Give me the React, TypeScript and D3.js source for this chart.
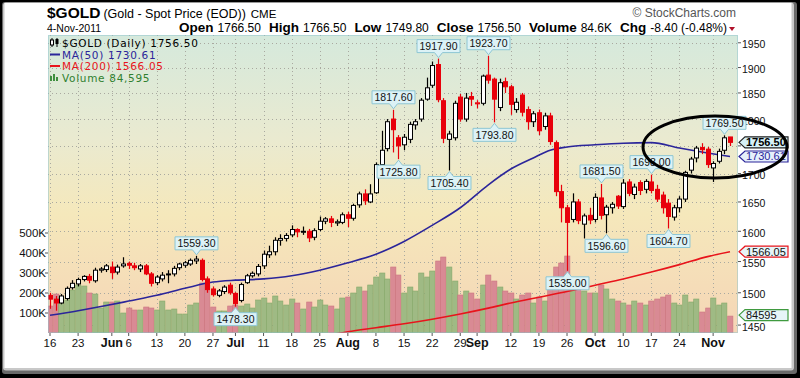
import React from "react";
import * as d3 from "d3";

const dates = [
  "2011-05-16","2011-05-17","2011-05-18","2011-05-19","2011-05-20",
  "2011-05-23","2011-05-24","2011-05-25","2011-05-26","2011-05-27",
  "2011-05-31","2011-06-01","2011-06-02","2011-06-03",
  "2011-06-06","2011-06-07","2011-06-08","2011-06-09","2011-06-10",
  "2011-06-13","2011-06-14","2011-06-15","2011-06-16","2011-06-17",
  "2011-06-20","2011-06-21","2011-06-22","2011-06-23","2011-06-24",
  "2011-06-27","2011-06-28","2011-06-29","2011-06-30","2011-07-01",
  "2011-07-05","2011-07-06","2011-07-07","2011-07-08",
  "2011-07-11","2011-07-12","2011-07-13","2011-07-14","2011-07-15",
  "2011-07-18","2011-07-19","2011-07-20","2011-07-21","2011-07-22",
  "2011-07-25","2011-07-26","2011-07-27","2011-07-28","2011-07-29",
  "2011-08-01","2011-08-02","2011-08-03","2011-08-04","2011-08-05",
  "2011-08-08","2011-08-09","2011-08-10","2011-08-11","2011-08-12",
  "2011-08-15","2011-08-16","2011-08-17","2011-08-18","2011-08-19",
  "2011-08-22","2011-08-23","2011-08-24","2011-08-25","2011-08-26",
  "2011-08-29","2011-08-30","2011-08-31","2011-09-01","2011-09-02",
  "2011-09-06","2011-09-07","2011-09-08","2011-09-09",
  "2011-09-12","2011-09-13","2011-09-14","2011-09-15","2011-09-16",
  "2011-09-19","2011-09-20","2011-09-21","2011-09-22","2011-09-23",
  "2011-09-26","2011-09-27","2011-09-28","2011-09-29","2011-09-30",
  "2011-10-03","2011-10-04","2011-10-05","2011-10-06","2011-10-07",
  "2011-10-10","2011-10-11","2011-10-12","2011-10-13","2011-10-14",
  "2011-10-17","2011-10-18","2011-10-19","2011-10-20","2011-10-21",
  "2011-10-24","2011-10-25","2011-10-26","2011-10-27","2011-10-28",
  "2011-10-31","2011-11-01","2011-11-02","2011-11-03","2011-11-04",
];

const opens = [
  1496,1490,1484,1491,1508, 1514,1521,1526,1519,1536, 1537,1541,1533,1543,
  1547,1543,1538,1543,1530, 1516,1522,1529,1530,1540, 1544,1546,1551,1552,1522,
  1506,1496,1502,1512,1499, 1488,1516,1527,1530, 1543,1561,1566,1585,1588,
  1594,1603,1599,1600,1590, 1603,1617,1621,1614,1615, 1628,1622,1645,1664,1650,
  1666,1716,1745,1800,1765, 1752,1762,1789,1800,1838, 1865,1906,1835,1762,1765,
  1842,1800,1843,1829,1830, 1885,1877,1822,1872, 1862,1818,1846,1818,1795,
  1812,1786,1806,1756,1668, 1640,1620,1650,1612,1627, 1620,1657,1628,1640,1660,
  1642,1685,1663,1684,1672, 1685,1672,1662,1648,1624, 1640,1655,1706,1728,1747,
  1744,1710,1722,1742,1766.5,
];
const highs = [
  1500,1495,1498,1510,1520, 1524,1528,1530,1540,1541, 1546,1550,1545,1557,
  1550,1548,1546,1546,1533, 1528,1533,1536,1543,1548, 1551,1555,1559.3,1555,1526,
  1510,1506,1512,1516,1501, 1516,1530,1534,1546, 1568,1576,1590,1595,1597,
  1610,1605,1608,1604,1605, 1625,1624,1626,1620,1632, 1633,1647,1668,1672,1681,
  1720,1778,1800,1817.6,1770, 1772,1795,1800,1840,1880, 1912,1917.9,1840,1778,1835,
  1848,1850,1852,1836,1886, 1923.7,1880,1878,1880, 1866,1840,1850,1824,1815,
  1818,1812,1812,1760,1680, 1645,1665,1655,1630,1640, 1665,1681.5,1645,1650,1662,
  1690,1690,1682,1688,1690, 1698,1680,1668,1655,1645, 1660,1705,1730,1750,1755,
  1748,1722,1745,1769.5,1766.5,
];
const lows = [
  1475,1472,1482,1488,1505, 1510,1518,1515,1516,1532, 1533,1522,1529,1540,
  1538,1536,1533,1528,1510, 1512,1518,1515,1526,1536, 1540,1543,1546,1518,1500,
  1494,1493,1498,1497,1478.3, 1485,1514,1524,1526, 1538,1556,1560,1576,1583,
  1590,1590,1594,1582,1585, 1600,1612,1607,1609,1612, 1607,1618,1640,1645,1648,
  1664,1716,1740,1738,1725.8, 1742,1755,1780,1795,1835, 1860,1832,1755,1705.4,1760,
  1795,1795,1825,1820,1826, 1868,1793.8,1815,1850, 1808,1812,1805,1780,1785,
  1770,1780,1752,1660,1615, 1535,1615,1612,1588,1612, 1615,1620,1596.6,1630,1638,
  1638,1660,1655,1662,1665, 1665,1650,1630,1604.7,1618, 1632,1650,1700,1720,1735,
  1710,1685,1718,1735,1749.8,
];
const closes = [
  1490,1484,1495,1507,1515, 1521,1526,1520,1536,1538, 1543,1532,1541,1546,
  1544,1540,1543,1530,1515, 1525,1528,1530,1539,1546, 1548,1552,1554,1521,1505,
  1497,1503,1509,1500,1483, 1513,1527,1531,1542, 1562,1566,1585,1588,1593,
  1603,1599,1600,1589,1601, 1617,1621,1615,1616,1628, 1622,1644,1664,1652,1664,
  1716,1742,1795,1780,1750, 1766,1790,1795,1836,1860, 1904,1837,1764,1772,1830,
  1800,1840,1838,1831,1883, 1875,1838,1870,1862, 1828,1832,1813,1795,1810,
  1778,1806,1758,1668,1640, 1615,1650,1618,1626,1619, 1658,1627,1641,1646,1643,
  1683,1665,1676,1670,1686, 1670,1655,1640,1625,1640, 1655,1702,1726,1746,1743,
  1716,1718,1740,1764.9,1756.5,
];
const volumes = [
  135000,195000,180000,165000,215000, 240000,235000,200000,195000,125000,
  155000,155000,160000,100000, 125000,115000,115000,130000,125000,
  115000,160000,115000,120000,95000, 95000,140000,150000,250000,240000,
  130000,110000,110000,135000,140000, 135000,145000,125000,165000,
  175000,150000,185000,160000,140000, 170000,150000,120000,155000,130000,
  165000,140000,135000,120000,175000, 180000,200000,230000,210000,240000,
  280000,300000,270000,330000,290000, 200000,230000,210000,300000,280000,
  310000,360000,380000,330000,260000, 190000,210000,200000,170000,240000,
  290000,260000,230000,210000, 200000,170000,190000,200000,150000,
  180000,160000,220000,330000,350000, 385000,250000,220000,210000,200000,
  200000,240000,220000,170000,160000, 150000,140000,160000,150000,140000,
  160000,170000,180000,190000,150000, 140000,190000,155000,170000,105000,
  125000,175000,140000,150000,84595,
];
const priorClose = 1493;

const ma50Dates = [
  "2011-05-16","2011-05-23","2011-05-31","2011-06-06","2011-06-13","2011-06-20",
  "2011-06-27","2011-07-01","2011-07-11","2011-07-18","2011-07-25","2011-08-01",
  "2011-08-08","2011-08-15","2011-08-22","2011-08-29","2011-09-06","2011-09-12",
  "2011-09-16","2011-09-21","2011-09-26","2011-10-03","2011-10-10","2011-10-17",
  "2011-10-24","2011-10-31","2011-11-04",
];
const ma50Values = [
  1465,1472,1480,1487,1496,1507, 1517,1520,1522,1527,1536,1548,
  1562,1583,1610,1640,1680,1708, 1728,1742,1748,1752,1755,1756,
  1746,1737,1730.61,
];
const ma200Dates = [
  "2011-07-25","2011-08-01","2011-08-08","2011-08-15","2011-08-22","2011-08-29",
  "2011-09-06","2011-09-12","2011-09-19","2011-09-26","2011-10-03","2011-10-10",
  "2011-10-17","2011-10-24","2011-10-31","2011-11-04",
];
const ma200Values = [
  1432,1440,1446,1452,1459,1467, 1476,1484,1493,1502,1512,1522,
  1533,1545,1558,1566.05,
];

const tickDates = [
  "2011-05-16","2011-05-23","2011-06-01","2011-06-06","2011-06-13","2011-06-20",
  "2011-06-27","2011-07-01","2011-07-11","2011-07-18","2011-07-25","2011-08-01",
  "2011-08-08","2011-08-15","2011-08-22","2011-08-29","2011-09-01","2011-09-12",
  "2011-09-19","2011-09-26","2011-10-03","2011-10-10","2011-10-17","2011-10-24",
  "2011-11-01",
];
const tickLabels = [
  "16","23","Jun","6","13","20","27","Jul","11","18","25","Aug",
  "8","15","22","29","Sep","12","19","26","Oct","10","17","24","Nov",
];
const priceTicks = [1450,1500,1550,1600,1650,1700,1750,1800,1850,1900,1950];
const volumeTicks = [100000,200000,300000,400000,500000];
const volumeTickLabels = ["100K","200K","300K","400K","500K"];

const calloutDates = [
  "2011-06-22","2011-07-01","2011-08-11","2011-08-12","2011-08-23","2011-08-25",
  "2011-09-06","2011-09-07","2011-10-04","2011-10-05","2011-10-17","2011-10-20",
  "2011-09-26","2011-11-03",
];
const calloutValues = [
  1559.3,1478.3,1817.6,1725.8,1917.9,1705.4,1923.7,1793.8,1681.5,1596.6,1698.0,1604.7,1535.0,1769.5,
];
const calloutSides = ["H","L","H","L","H","L","H","L","H","L","H","L","L","H"];

const F = "'Liberation Sans', Arial, sans-serif";
const FV = "'DejaVu Sans', Verdana, sans-serif";

function textW(s: string, size: number) {
  let w = 0;
  for (const c of s) w += c === "." ? 0.278 : 0.556;
  return w * size;
}

export default function App() {
  const W = 800, H = 378;
  const L = 48, R = 738, T = 35, B = 333;
  const x = d3.scalePoint<string>().domain(dates).range([50, 730]);
  const y = d3.scaleLog().domain([1438, 1966]).range([B, T]);
  const yv = d3.scaleLinear().domain([0, 1490000]).range([B, T]);
  const n = dates.length;

  const line = d3.line<[string, number]>()
    .x((d) => x(d[0]) as number)
    .y((d) => y(d[1]))
    .curve(d3.curveMonotoneX);
  const ma50Path = line(ma50Dates.map((d, i) => [d, ma50Values[i]]));
  const ma200Path = line(ma200Dates.map((d, i) => [d, ma200Values[i]]));

  const candles = dates.map((d, i) => {
    const prev = i === 0 ? priorClose : closes[i - 1];
    const up = closes[i] >= prev;
    const hollow = closes[i] > opens[i];
    const cx = Math.round(x(d) as number) + 0.5;
    const col = up ? "#000" : "#e8000b";
    const top = y(Math.max(opens[i], closes[i]));
    const bot = y(Math.min(opens[i], closes[i]));
    return { d, i, up, hollow, cx, col, top, bot };
  });

  const lastClose = closes[n - 1];
  const lastMa50 = ma50Values[ma50Values.length - 1];
  const lastMa200 = ma200Values[ma200Values.length - 1];
  const lastVol = volumes[n - 1];
  const tagYs = [y(lastClose), y(lastMa50), y(lastMa200), yv(lastVol)];
  const hiddenByTag = (p: number) => tagYs.some((ty) => Math.abs(ty - y(p)) < 7);

  const tag = (yy: number, txt: string, stroke: string, fill: string, color: string, bold: boolean) => {
    const x0 = R + 1, x1 = R + 7, x2 = 788;
    const h = 5.5;
    return (
      <g key={txt}>
        <path d={`M${x0},${yy} L${x1},${yy - h} L${x2},${yy - h} L${x2},${yy + h} L${x1},${yy + h} Z`}
          fill={fill} stroke={stroke} strokeWidth={1.2} />
        <text x={x1 + 1} y={yy + 3.8} fontFamily={F} fontSize={11} fontWeight={bold ? "bold" : "normal"} fill={color}>{txt}</text>
      </g>
    );
  };

  return (
    <div>
      <style>{`body{margin:0}`}</style>
      <svg width={W} height={H} style={{ display: "block" }}>
        <defs>
          <linearGradient id="bg" x1="0" y1="0" x2="0" y2="1">
            <stop offset="0" stopColor="#d5e9dc" />
            <stop offset="0.35" stopColor="#eaead0" />
            <stop offset="0.6" stopColor="#f5e8bb" />
            <stop offset="1" stopColor="#f5d5b6" />
          </linearGradient>
          <clipPath id="plot">
            <rect x={L} y={T} width={R - L} height={B - T} />
          </clipPath>
        </defs>
        {/* frame */}
        <rect x={0} y={0} width={W} height={H} fill="#000" />
        <rect x={2} y={2} width={795} height={372} rx={3} fill="#6a6a6a" />
        <rect x={3} y={2.5} width={791} height={368} rx={3} fill="#c8c8c8" />
        <rect x={4.5} y={3} width={787} height={365} fill="#fff" />

        {/* header */}
        <text x={47} y={18} fontFamily={F}>
          <tspan fontSize={15.5} fontWeight="bold">$GOLD</tspan>
          <tspan fontSize={12.5} dx={3}>(Gold - Spot Price (EOD))</tspan>
          <tspan fontSize={11.5} dx={5}>CME</tspan>
        </text>
        <text x={47} y={32} fontFamily={F} fontSize={10.5}>4-Nov-2011</text>
        <text x={736} y={17} textAnchor="end" fontFamily={F} fontSize={12} fill="#555">© StockCharts.com</text>
        <text x={727} y={32} textAnchor="end" fontFamily={F} fontSize={12}>
          <tspan fontWeight="bold" fontSize={13.5}>Open</tspan>
          <tspan dx={4}>1766.50</tspan>
          <tspan fontWeight="bold" fontSize={13.5} dx={8}>High</tspan>
          <tspan dx={4}>1766.50</tspan>
          <tspan fontWeight="bold" fontSize={13.5} dx={8}>Low</tspan>
          <tspan dx={4}>1749.80</tspan>
          <tspan fontWeight="bold" fontSize={13.5} dx={8}>Close</tspan>
          <tspan dx={4}>1756.50</tspan>
          <tspan fontWeight="bold" fontSize={13.5} dx={8}>Volume</tspan>
          <tspan dx={4}>84.6K</tspan>
          <tspan fontWeight="bold" fontSize={13.5} dx={8}>Chg</tspan>
          <tspan dx={4}>-8.40 (-0.48%)</tspan>
        </text>
        <path d="M729,27 L735,27 L732,31 Z" fill="#b0102a" />

        {/* plot background */}
        <rect x={L} y={T} width={R - L} height={B - T} fill="url(#bg)" />

        {/* grid */}
        {priceTicks.map((p) => (
          <line key={"g" + p} x1={L} x2={R} y1={Math.round(y(p)) + 0.5} y2={Math.round(y(p)) + 0.5}
            stroke="#a9a9a0" strokeDasharray="1,3" />
        ))}
        {tickDates.map((d) => (
          <line key={"gv" + d} x1={Math.round(x(d) as number) + 0.5} x2={Math.round(x(d) as number) + 0.5}
            y1={T} y2={B} stroke="#a9a9a0" strokeDasharray="1,3" />
        ))}

        <g clipPath="url(#plot)">
          {/* volume */}
          {candles.map((c) => (
            <rect key={"v" + c.d} x={c.cx - 2.8} y={yv(volumes[c.i])} width={5.2} height={B - yv(volumes[c.i])}
              fill={c.up ? "#9fba84" : "#d98a94"} stroke={c.up ? "#86a96a" : "#cc7680"} strokeWidth={0.6} />
          ))}
          {/* moving averages */}
          <path d={ma200Path ?? ""} fill="none" stroke="#e8141b" strokeWidth={1.6} />
          <path d={ma50Path ?? ""} fill="none" stroke="#2b259a" strokeWidth={1.6} />
          {/* candles */}
          {candles.map((c) => (
            <g key={"c" + c.d}>
              <line x1={c.cx} x2={c.cx} y1={y(highs[c.i])} y2={y(lows[c.i])} stroke={c.col} strokeWidth={1.2} />
              <rect x={c.cx - 2} y={c.top} width={4} height={Math.max(1, c.bot - c.top)}
                fill={c.hollow ? "#fff" : c.col} stroke={c.col} strokeWidth={1} />
            </g>
          ))}
        </g>

        {/* plot border */}
        <rect x={L + 0.5} y={T + 0.5} width={R - L - 1} height={B - T - 1} fill="none" stroke="#8fc3cf" strokeDasharray="1,1" />

        {/* right price axis */}
        {priceTicks.map((p) => (
          <g key={"pt" + p}>
            <line x1={R} x2={R + 3} y1={y(p)} y2={y(p)} stroke="#555" />
            {!hiddenByTag(p) && (
              <text x={R + 4} y={y(p) + 5.5} fontFamily={F} fontSize={10.5} fill="#111">{p}</text>
            )}
          </g>
        ))}
        {/* left volume axis */}
        {volumeTicks.map((v, i) => (
          <g key={"vt" + v}>
            <line x1={L - 3} x2={L} y1={yv(v)} y2={yv(v)} stroke="#555" />
            <text x={L - 2} y={yv(v) + 4} textAnchor="end" fontFamily={F} fontSize={11.5} fill="#111">{volumeTickLabels[i]}</text>
          </g>
        ))}
        {/* x axis */}
        {tickDates.map((d, i) => {
          const isMonth = isNaN(Number(tickLabels[i]));
          return (
            <g key={"xt" + d}>
              <line x1={x(d) as number} x2={x(d) as number} y1={B} y2={B + 3} stroke="#555" />
              <text x={x(d) as number} y={347} textAnchor="middle" fontFamily={F}
                fontSize={isMonth ? 12.5 : 11.5} fontWeight={isMonth ? "bold" : "normal"} fill="#111">{tickLabels[i]}</text>
            </g>
          );
        })}

        {/* callouts */}
        {calloutDates.map((d, i) => {
          const cx = Math.round(x(d) as number) + 0.5;
          const txt = calloutValues[i].toFixed(2);
          const w = textW(txt, 10.5) + 5;
          const hi = calloutSides[i] === "H";
          const py = y(calloutValues[i]);
          const tip = hi ? py - 1 : py + 1;
          const bEdge = hi ? tip - 5 : tip + 5;
          const bx = cx - w / 2;
          const by = hi ? bEdge - 13 : bEdge;
          const dPath = hi
            ? `M${bx},${by} H${bx + w} V${bEdge} H${cx + 4} L${cx},${tip} L${cx - 4},${bEdge} H${bx} Z`
            : `M${bx},${bEdge} H${cx - 4} L${cx},${tip} L${cx + 4},${bEdge} H${bx + w} V${bEdge + 13} H${bx} Z`;
          return (
            <g key={"co" + i}>
              <path d={dPath} fill="#dcf2f6" stroke="#8dc6d4" strokeWidth={1} />
              <text x={cx} y={by + 10.5} textAnchor="middle" fontFamily={F} fontSize={10.5} fill="#111">{txt}</text>
            </g>
          );
        })}

        {/* right tags */}
        {tag(y(lastMa200), lastMa200.toFixed(2), "#e8141b", "#e6f5f8", "#111", false)}
        {tag(yv(lastVol) - 1, String(lastVol), "#3f9a3f", "#e6f5f8", "#111", false)}
        {tag(y(lastMa50), lastMa50.toFixed(2), "#2b259a", "#e6f0fb", "#2b259a", false)}
        {tag(y(lastClose), lastClose.toFixed(2), "#222", "#d6f1f7", "#000", true)}

        {/* annotation ellipse */}
        <ellipse cx={715} cy={147} rx={72} ry={31} fill="none" stroke="#000" strokeWidth={3} />

        {/* legend */}
        <g fontFamily={FV} fontSize={10.5} letterSpacing={0.7}>
          <g>
            <line x1={52} x2={52} y1={38} y2={47} stroke="#000" />
            <rect x={50.5} y={40} width={3} height={5} fill="#fff" stroke="#000" />
            <line x1={57} x2={57} y1={38} y2={47} stroke="#000" />
            <rect x={55.5} y={39} width={3} height={5} fill="#000" />
            <text x={62} y={47} fill="#000">$GOLD (Daily) 1756.50</text>
          </g>
          <line x1={50} x2={60} y1={54.5} y2={54.5} stroke="#2b259a" strokeWidth={2} />
          <text x={62} y={58.5} fill="#2b259a">MA(50) 1730.61</text>
          <line x1={50} x2={60} y1={66} y2={66} stroke="#e8141b" strokeWidth={2} />
          <text x={62} y={70} fill="#e8141b">MA(200) 1566.05</text>
          <rect x={50} y={76} width={2} height={5} fill="#3f8f3f" />
          <rect x={53} y={74} width={2} height={7} fill="#3f8f3f" />
          <rect x={56} y={77} width={2} height={4} fill="#3f8f3f" />
          <text x={62} y={81.5} fill="#2f7f2f">Volume 84,595</text>
        </g>
      </svg>
    </div>
  );
}
